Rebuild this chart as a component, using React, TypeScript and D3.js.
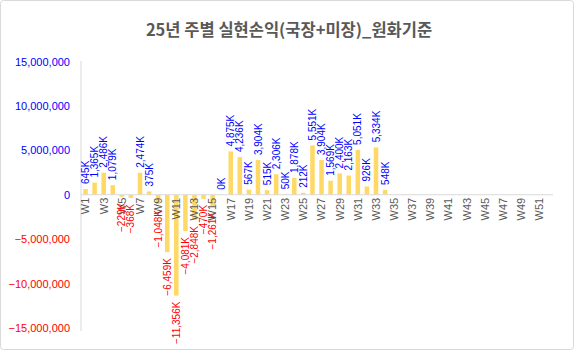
import React, { useEffect, useRef } from "react";
import * as d3 from "d3";

// weekly realized P/L (KRW) - only W1..W34 have values
const weeks = d3.range(1, 53).map((i) => `W${i}`);
const profits = [
	645000, 1365000, 2486000, 1079000, -229000, -368000, 2474000, 375000, -1048000, -6459000,
	-11356000, -4081000, -2848000, -470000, -1261000, 0, 4875000, 4236000, 567000, 3904000,
	515000, 2306000, 50000, 1878000, 212000, 5551000, 3904000, 1569000, 2400000, 2163000,
	5051000, 926000, 5334000, 548000,
];
const yTicks = [15000000, 10000000, 5000000, 0, -5000000, -10000000, -15000000];
const title = "25년 주별 실현손익(국장+미장)_원화기준";

interface Row {
	week: string;
	value: number;
}

function draw(ref: SVGSVGElement | null) {
	if (!ref) return;
	const width = 575,
		height = 351;
	const svg = d3.select(ref).attr("width", width).attr("height", height);
	svg.selectAll("*").remove();

	const rows: Row[] = profits.map((v, i) => ({ week: weeks[i], value: v }));

	// chart area border
	svg.append("rect")
		.attr("x", 0.5)
		.attr("y", 0.5)
		.attr("width", width - 2)
		.attr("height", height - 2)
		.attr("rx", 3)
		.attr("fill", "white")
		.attr("stroke", "#d9d9d9");

	svg.append("text")
		.attr("x", 289)
		.attr("y", 36)
		.attr("text-anchor", "middle")
		.attr("font-family", "'Noto Sans CJK KR', 'Noto Sans', sans-serif")
		.attr("font-weight", "bold")
		.attr("font-size", 16.5)
		.attr("fill", "#595959")
		.text(title);

	const x = d3.scaleBand<string>().domain(weeks).range([81, 553]).paddingInner(0.5).paddingOuter(0.25);
	const y = d3.scaleLinear().domain([-15000000, 15000000]).range([328, 61.5]);
	const fmt = d3.format(",");

	// y axis
	const yAxis = svg
		.append("g")
		.attr("transform", "translate(81,0)")
		.call(d3.axisLeft(y).tickValues(yTicks).tickSize(0).tickPadding(11).tickFormat((d) => fmt(d as number)));
	yAxis.select(".domain").attr("stroke", "#d9d9d9").attr("d", "M0,61V331");
	yAxis.selectAll("text")
		.attr("font-family", "'Liberation Sans', Arial, sans-serif")
		.attr("font-size", 11)
		.attr("fill", (d) => ((d as number) < 0 ? "#ff0000" : "#0000ff"));

	// bars
	svg.append("g")
		.selectAll("rect")
		.data(rows)
		.join("rect")
		.attr("x", (d) => x(d.week)!)
		.attr("width", x.bandwidth())
		.attr("y", (d) => y(Math.max(0, d.value)))
		.attr("height", (d) => Math.abs(y(d.value) - y(0)))
		.attr("fill", "#ffd966");

	// x axis at zero
	const xAxis = svg
		.append("g")
		.attr("transform", `translate(0,${y(0)})`)
		.call(
			d3
				.axisBottom(x)
				.tickSize(0)
				.tickFormat((d, i) => (i % 2 === 0 ? d : ""))
		);
	xAxis.select(".domain").attr("stroke", "#d9d9d9").attr("d", "M81,0H553");
	xAxis.selectAll("text")
		.attr("font-family", "'Liberation Sans', Arial, sans-serif")
		.attr("font-size", 11)
		.attr("fill", "#595959")
		.attr("text-anchor", "end")
		.attr("transform", "rotate(-90)")
		.attr("x", -3)
		.attr("y", 0)
		.attr("dy", "0.35em");

	// data labels
	svg.append("g")
		.selectAll("text")
		.data(rows)
		.join("text")
		.attr("transform", (d) => {
			const cx = x(d.week)! + x.bandwidth() / 2;
			const cy = d.value < 0 ? y(d.value) + 6 : y(d.value) - 5;
			return `translate(${cx},${cy}) rotate(-90)`;
		})
		.attr("text-anchor", (d) => (d.value < 0 ? "end" : "start"))
		.attr("dy", "0.35em")
		.attr("font-family", "'Liberation Sans', Arial, sans-serif")
		.attr("font-size", 10)
		.attr("fill", (d) => (d.value < 0 ? "#ff0000" : "#0000ff"))
		.text((d) => `${fmt(Math.round(d.value / 1000))}K`);
}

export default function App() {
	const ref = useRef<SVGSVGElement>(null);
	useEffect(() => {
		draw(ref.current);
	}, []);
	return <svg ref={ref} style={{ position: "absolute", left: 0, top: 0 }} />;
}
